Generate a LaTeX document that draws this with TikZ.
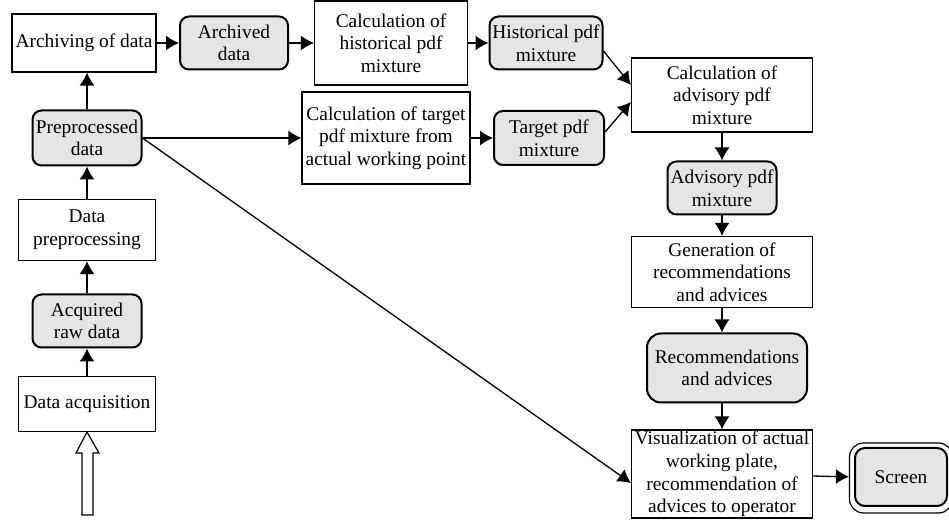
\documentclass[tikz,border=0pt]{standalone}
\usepackage{fontspec}
\setmainfont{Liberation Serif}
\usetikzlibrary{arrows.meta}
\tikzstyle{every node}=[align=center,font=\fontsize{9.7}{11.3}\selectfont,inner sep=0.5pt]
\tikzstyle{proc}=[draw=black,line width=0.6pt,fill=white]
\tikzstyle{dat}=[draw=black,line width=1pt,fill=gray!20,rounded corners=4.5pt]
\tikzstyle{flow}=[line width=0.65pt,-{Latex[length=6.5pt,width=7.5pt]}]

\begin{document}
\begin{tikzpicture}[x=0.5pt,y=-0.5pt]
  \useasboundingbox (0,0) rectangle (949,529);
  % left column
  \node [proc,minimum width=72pt,minimum height=29pt] (arch) at (84,43) {Archiving of data};
  \node [dat,minimum width=54.5pt,minimum height=27.5pt] (pre) at (87,138) {Preprocessed\\data};
  \node [proc,minimum width=68.5pt,minimum height=30.5pt] (dprep) at (87,230) {Data\\preprocessing};
  \node [dat,minimum width=54.5pt,minimum height=26.5pt] (raw) at (87,321) {Acquired\\raw data};
  \node [proc,minimum width=68.5pt,minimum height=27.5pt] (dacq) at (87,404) {Data acquisition};
  % hollow input arrow
  \draw [line width=0.6pt] (82,515) -- (93,515) -- (93,453) -- (99,453)
    -- (dacq.south) -- (76,453) -- (82,453) -- cycle;
  % middle
  \node [dat,minimum width=54pt,minimum height=26.5pt] (archd) at (234,43) {Archived\\data};
  \node [proc,minimum width=76.5pt,minimum height=42pt] (chist) at (391,43) {Calculation of\\historical pdf\\mixture};
  \node [dat,minimum width=56.5pt,minimum height=26.5pt] (hist) at (546,43) {Historical pdf\\mixture};
  \node [proc,minimum width=84pt,minimum height=46pt] (ctarget) at (386,138) {Calculation of target\\pdf mixture from\\actual working point};
  \node [dat,minimum width=55pt,minimum height=27pt] (target) at (549,138) {Target pdf\\mixture};
  % right column
  \node [proc,minimum width=90.5pt,minimum height=37pt] (cadv) at (722,95) {Calculation of\\advisory pdf\\mixture};
  \node [dat,minimum width=54.5pt,minimum height=26.5pt] (advm) at (722,188) {Advisory pdf\\mixture};
  \node [proc,minimum width=90.5pt,minimum height=35.5pt] (gen) at (722,272) {Generation of\\recommendations\\and advices};
  \node [dat,minimum width=80pt,minimum height=34.5pt,rounded corners=7pt] (recs) at (727,368) {Recommendations\\and advices};
  \node [proc,minimum width=90.5pt,minimum height=44pt] (vis) at (722,474) {Visualization of actual\\working plate,\\recommendation of\\advices to operator};
  \node [draw,line width=0.6pt,rounded corners=7pt,minimum width=51.5pt,minimum height=35pt] (scrframe) at (901,478) {};
  \node [dat,minimum width=46pt,minimum height=29pt,rounded corners=5pt] (screen) at (901,477) {Screen};

  \draw [flow] (dacq) -- (raw);
  \draw [flow] (raw) -- (dprep);
  \draw [flow] (dprep) -- (pre);
  \draw [flow] (pre) -- (pre |- arch.south);
  \draw [flow] (arch) -- (archd);
  \draw [flow] (archd) -- (chist);
  \draw [flow] (chist) -- (hist);
  \draw [flow] (pre) -- (ctarget);
  \draw [flow] (ctarget) -- (target);
  \draw [flow] (pre.east) -- ([yshift=-4.5pt]vis.west);
  \draw [flow] ([yshift=-4pt]hist.east) -- ([yshift=5pt]cadv.west);
  \draw [flow] ([yshift=3pt]target.east) -- ([yshift=-3.5pt]cadv.west);
  \draw [flow] (cadv) -- (advm);
  \draw [flow] (advm) -- (gen);
  \draw [flow] (gen.south) -- (gen.south |- recs.north);
  \draw [flow] (vis.north |- recs.south) -- (vis.north);
  \draw [flow] (vis) -- (scrframe);
\end{tikzpicture}
\end{document}
